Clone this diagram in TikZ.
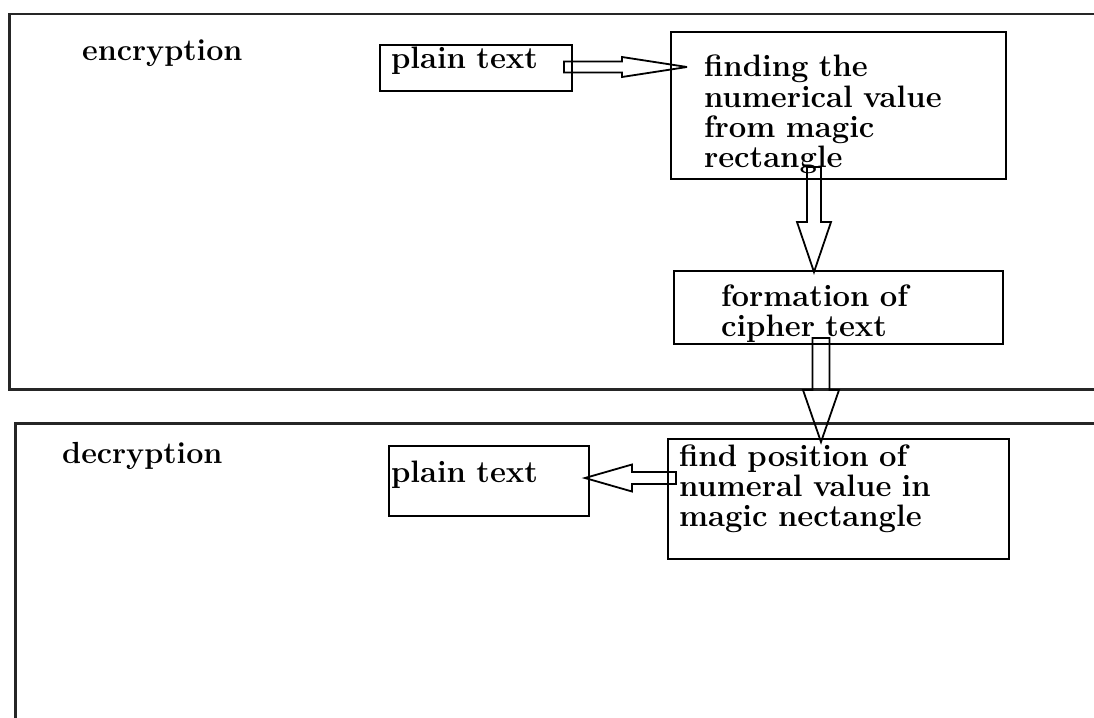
\documentclass[tikz,border=0pt]{standalone}
\usepackage{tikz}
\usetikzlibrary{shapes, arrows, calc}
\tikzstyle{frame} = [rectangle, draw=black!85, line width=2.5pt, anchor=north west, inner sep=0pt]
\tikzstyle{title} = [anchor=base west, inner sep=0pt, font=\fontsize{30.5}{30}\selectfont\bfseries]
\tikzstyle{statement} = [rectangle, draw=black, line width=2pt, anchor=north west, align=left, inner ysep=0pt, font=\fontsize{31}{30}\selectfont\bfseries]
\tikzset{block/.style args={#1/#2/#3}{draw=black, line width=1.8pt, miter limit=4,
  to path={let \p1=(\tikztostart), \p2=(\tikztotarget), \n1={atan2(\y2-\y1,\x2-\x1)}, \n2={veclen(\x2-\x1,\y2-\y1)} in
  ([shift={(\p1)},rotate=\n1]0,#1) -- ([shift={(\p1)},rotate=\n1]\n2-#3,#1) -- ([shift={(\p1)},rotate=\n1]\n2-#3,#2) -- (\p2)
  -- ([shift={(\p1)},rotate=\n1]\n2-#3,-#2) -- ([shift={(\p1)},rotate=\n1]\n2-#3,-#1) -- ([shift={(\p1)},rotate=\n1]0,-#1) -- cycle}}}
\begin{document}
\begin{tikzpicture}[x=1pt, y=-1pt]
\clip (0,0) rectangle (1094,717);

\node (enc) [frame, minimum width=1150pt, minimum height=375pt] at (8,13) {};
\node (dec) [frame, minimum width=1150pt, minimum height=400pt] at (14,422) {};
\node (enctitle) [title] at (82,60) {encryption};
\node (dectitle) [title] at (62,463) {decryption};

\node (1) [statement, inner xsep=11pt, text width=170pt, text height=24pt, text depth=22pt] at (379,44) {plain text};
\node (2) [statement, inner xsep=33pt, text width=269pt, text height=45pt, text depth=102pt] at (670,31) {finding the\\numerical value\\from magic\\rectangle};
\node (3) [statement, inner xsep=47pt, text width=235pt, text height=35pt, text depth=38pt] at (673,270) {formation of\\cipher text};
\node (4) [statement, inner xsep=11pt, text width=319pt, text height=27pt, text depth=93pt] at (667,438) {find position of\\numeral value in\\magic nectangle};
\node (5) [statement, inner xsep=2pt, text width=196pt, text height=36pt, text depth=34pt] at (388,445) {plain text};

\coordinate (1o) at ($(1.east)+(-9,-1)$);
\coordinate (2i) at ($(2.west |- 1o)+(17,0)$);
\coordinate (2o) at ($(2.south)+(-24.5,-13)$);
\coordinate (3i) at ($(3.north)+(-24.5,2)$);
\coordinate (3o) at ($(3.south)+(-17.5,-7)$);
\coordinate (4i) at ($(4.north)+(-17.5,4)$);
\coordinate (4o) at ($(4.west)+(9,-21)$);
\coordinate (5i) at ($(5.east)+(-5,-3)$);

\draw [block=5.5/10/65] (1o) to (2i);
\draw [block=7/17/50] (2o) to (3i);
\draw [block=8.5/18/52] (3o) to (4i);
\draw [block=6/13.5/47] (4o) to (5i);

\end{tikzpicture}
\end{document}
